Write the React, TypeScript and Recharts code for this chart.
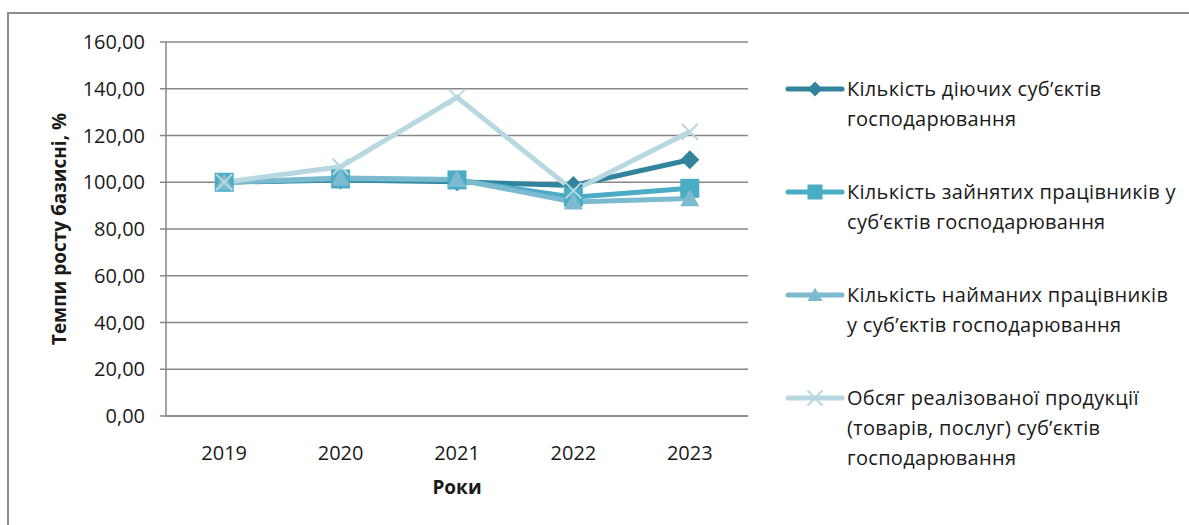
import React from "react";
import { LineChart, Line, XAxis, YAxis, CartesianGrid, Legend, Label } from "recharts";

// Years on the category axis
const years = ["2019", "2020", "2021", "2022", "2023"];

// Base growth rates, % (2019 = 100)
const activeEntities = [100.0, 101.0, 100.2, 98.6, 109.6];
const employedWorkers = [100.0, 101.4, 101.0, 93.6, 97.4];
const hiredWorkers = [100.0, 101.8, 101.2, 91.6, 93.0];
const salesVolume = [100.0, 106.6, 136.3, 96.4, 121.6];

// Y axis ticks
const yTicks = [0, 20, 40, 60, 80, 100, 120, 140, 160];

const seriesNames = [
  "Кількість діючих суб’єктів\nгосподарювання",
  "Кількість зайнятих працівників у\nсуб’єктів господарювання",
  "Кількість найманих працівників\nу суб’єктів господарювання",
  "Обсяг реалізованої продукції\n(товарів, послуг) суб’єктів\nгосподарювання",
];

const data = years.map((year, i) => ({
  year,
  s1: activeEntities[i],
  s2: employedWorkers[i],
  s3: hiredWorkers[i],
  s4: salesVolume[i],
}));

const FONT = "'Open Sans', 'Noto Sans', sans-serif";
const TEXT = "#1a1a1a";
const GRID = "#878787";

type Marker = "diamond" | "square" | "triangle" | "cross";

const series: { key: string; color: string; marker: Marker }[] = [
  { key: "s1", color: "#31849B", marker: "diamond" },
  { key: "s2", color: "#4BACC6", marker: "square" },
  { key: "s3", color: "#7BBACF", marker: "triangle" },
  { key: "s4", color: "#B7D7E1", marker: "cross" },
];

// Draws a marker of the given kind; h is half the marker size
function markerShape(kind: Marker, cx: number, cy: number, color: string, h: number, key?: string | number) {
  switch (kind) {
    case "diamond":
      return (
        <path key={key} d={`M${cx},${cy - h} L${cx + h},${cy} L${cx},${cy + h} L${cx - h},${cy} Z`} fill={color} />
      );
    case "square":
      return <rect key={key} x={cx - h} y={cy - h} width={2 * h} height={2 * h} fill={color} />;
    case "triangle":
      return (
        <path
          key={key}
          d={`M${cx},${cy - h} L${cx + h},${cy + h * 0.8} L${cx - h},${cy + h * 0.8} Z`}
          fill={color}
        />
      );
    case "cross":
    default:
      return (
        <path
          key={key}
          d={`M${cx - h},${cy - h} L${cx + h},${cy + h} M${cx - h},${cy + h} L${cx + h},${cy - h}`}
          stroke={color}
          strokeWidth={2}
          fill="none"
        />
      );
  }
}

const makeDot = (kind: Marker, color: string) => (props: any) => {
  const { cx, cy, index } = props;
  if (cx == null || cy == null) return <g key={`d-${index}`} />;
  return markerShape(kind, cx, cy, color, kind === "cross" ? 8 : 9.5, `d-${index}`);
};

const LegendContent = () => (
  <div style={{ display: "flex", flexDirection: "column", gap: 43 }}>
    {series.map((s, i) => (
      <div key={s.key} style={{ display: "flex", alignItems: "flex-start" }}>
        <svg width={62} height={30} style={{ flex: "0 0 auto" }}>
          <line x1={3} y1={15} x2={57} y2={15} stroke={s.color} strokeWidth={5} strokeLinecap="round" />
          {markerShape(s.marker, 30, 15, s.color, 7.5)}
        </svg>
        <div
          style={{
            whiteSpace: "pre",
            fontFamily: FONT,
            fontSize: 20,
            letterSpacing: 0.3,
            lineHeight: "30px",
            color: TEXT,
          }}
        >
          {seriesNames[i]}
        </div>
      </div>
    ))}
  </div>
);

export default function App() {
  return (
    <div style={{ position: "fixed", left: 0, top: 0, width: 1189, height: 525, background: "#fff", overflow: "hidden" }}>
      <div
        style={{
          position: "absolute",
          left: 7,
          top: 12,
          width: 1200,
          height: 540,
          borderLeft: "2px solid #8c8c8c",
          borderTop: "2px solid #8c8c8c",
          boxSizing: "border-box",
        }}
      />
      <div style={{ position: "absolute", left: 0, top: 0 }}>
        <LineChart
          width={1189}
          height={525}
          data={data}
          margin={{ top: 42, right: 441, bottom: 29, left: 86 }}
        >
          <CartesianGrid vertical={false} stroke={GRID} strokeWidth={1.5} />
          <XAxis
            dataKey="year"
            scale="band"
            height={80}
            axisLine={{ stroke: GRID, strokeWidth: 1.5 }}
            tickLine={false}
            tickMargin={24}
            tick={{ fontFamily: FONT, fontSize: 20, fill: TEXT }}
          >
            <Label
              value="Роки"
              position="insideBottom"
              offset={2}
              style={{ fontFamily: FONT, fontSize: 19, fontWeight: 700, fill: TEXT }}
            />
          </XAxis>
          <YAxis
            width={80}
            domain={[0, 160]}
            ticks={yTicks}
            interval={0}
            axisLine={{ stroke: GRID, strokeWidth: 1.5 }}
            tickLine={{ stroke: GRID, strokeWidth: 1.5 }}
            tickSize={6}
            tickMargin={15}
            tickFormatter={(v: number) => v.toFixed(2).replace(".", ",")}
            tick={{ fontFamily: FONT, fontSize: 20, fill: TEXT }}
          >
            <Label
              value="Темпи росту базисні, %"
              angle={-90}
              position="center"
              dx={-67}
              style={{ fontFamily: FONT, fontSize: 19, fontWeight: 700, fill: TEXT, textAnchor: "middle" }}
            />
          </YAxis>
          <Legend
            layout="horizontal"
            verticalAlign="middle"
            align="center"
            content={<LegendContent />}
            wrapperStyle={{ left: 785, top: 74, width: 404, height: "auto" }}
          />
          {series.map((s) => (
            <Line
              key={s.key}
              dataKey={s.key}
              name={s.key}
              type="linear"
              stroke={s.color}
              strokeWidth={5}
              dot={makeDot(s.marker, s.color)}
              activeDot={false}
              isAnimationActive={false}
            />
          ))}
        </LineChart>
      </div>
    </div>
  );
}
